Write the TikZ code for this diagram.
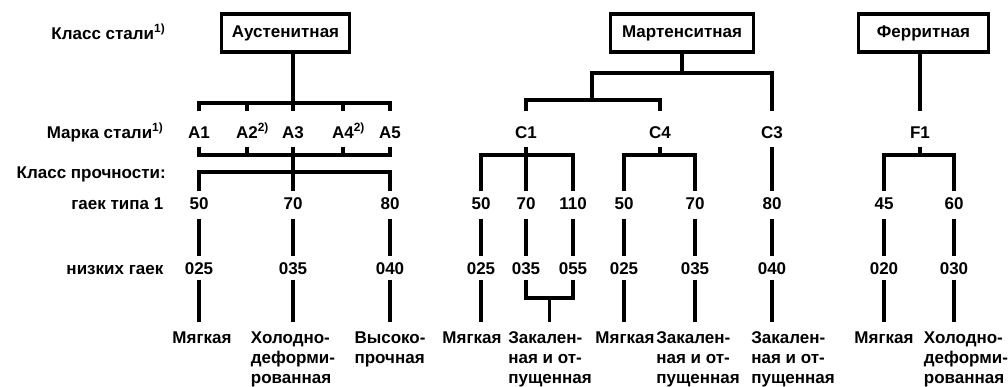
\documentclass[tikz,border=0pt]{standalone}
\usepackage{fontspec}
\setmainfont{Liberation Sans}
\begin{document}
\begin{tikzpicture}[x=1pt,y=-1pt,line width=3.4pt]
\tikzstyle{every node}+=[inner sep=0pt,font=\fontsize{17pt}{20pt}\selectfont\bfseries]
\tikzstyle{klass}=[draw,minimum height=38pt]
\tikzstyle{marka}=[minimum height=32pt,text height=18pt,text depth=0pt]
\tikzstyle{prochn}=[minimum height=24pt,text height=12pt,text depth=4pt]
\tikzstyle{kod}=[minimum height=20pt,text height=12pt,text depth=0pt]
\tikzstyle{vid}=[anchor=north,align=left,inner ysep=8pt]
\useasboundingbox (0,0) rectangle (1008,386);
\node [anchor=base east] (lklass) at (167,39) {Класс стали\textsuperscript{1)}};
\node [anchor=base east] (lmarka) at (165,138) {Марка стали\textsuperscript{1)}};
\node [anchor=base west] (lprochn) at (15,178) {Класс прочности:};
\node [anchor=base east] (lgaek) at (165,209) {гаек типа 1};
\node [anchor=base east] (lnizk) at (165,274) {низких гаек};
\node [klass,minimum width=128pt] (aust) at (285.5,33) {Аустенитная};
\node [klass,minimum width=143pt] (mart) at (682,33) {Мартенситная};
\node [klass,minimum width=130pt] (ferr) at (923.5,33) {Ферритная};
\node [marka] (A1) at (199,129) {A1};
\node [marka] (A2) at (247,129) {A2\rlap{\textsuperscript{2)}}};
\node [marka] (A3) at (293,129) {A3};
\node [marka] (A4) at (343,129) {A4\rlap{\textsuperscript{2)}}};
\node [marka] (A5) at (390,129) {A5};
\node [marka] (C1) at (526,129) {C1};
\node [marka] (C4) at (660,129) {C4};
\node [marka] (C3) at (772,129) {C3};
\node [marka] (F1) at (920,129) {F1};
\node [prochn] (a50) at (199,205) {50};
\node [prochn] (a70) at (293,205) {70};
\node [prochn] (a80) at (390,205) {80};
\node [prochn] (c50) at (481,205) {50};
\node [prochn] (c70) at (526,205) {70};
\node [prochn] (c110) at (573,205) {110};
\node [prochn] (d50) at (624,205) {50};
\node [prochn] (d70) at (695,205) {70};
\node [prochn] (e80) at (772,205) {80};
\node [prochn] (f45) at (884,205) {45};
\node [prochn] (f60) at (954,205) {60};
\node [kod] (a025) at (199,268) {025};
\node [kod] (a035) at (293,268) {035};
\node [kod] (a040) at (390,268) {040};
\node [kod] (c025) at (481,268) {025};
\node [kod] (c035) at (526,268) {035};
\node [kod] (c055) at (573,268) {055};
\node [kod] (d025) at (624,268) {025};
\node [kod] (d035) at (695,268) {035};
\node [kod] (e040) at (772,268) {040};
\node [kod] (f020) at (884,268) {020};
\node [kod] (f030) at (954,268) {030};
\node [vid] (ta1) at (202,322) {Мягкая};
\node [vid] (ta2) at (293,322) {Холодно-\\деформи-\\рованная};
\node [vid] (ta3) at (390,322) {Высоко-\\прочная};
\node [vid] (tc1) at (472,322) {Мягкая};
\node [vid] (tc2) at (550,322) {Закален-\\ная и от-\\пущенная};
\node [vid] (td1) at (625,322) {Мягкая};
\node [vid] (td2) at (698,322) {Закален-\\ная и от-\\пущенная};
\node [vid] (te1) at (793,322) {Закален-\\ная и от-\\пущенная};
\node [vid] (tf1) at (884,322) {Мягкая};
\node [vid] (tf2) at (966,322) {Холодно-\\деформи-\\рованная};
\coordinate (abr) at (293,103);
\coordinate (abl) at (293,155);
\coordinate (apr) at (293,172);
\coordinate (mj) at (592,73);
\coordinate (cj) at (592,100);
\coordinate (cbr) at (526,155);
\coordinate (cz) at (549.5,298);
\draw (aust.south -| A3) -- (A3.north);
\draw (A1.north) -- (A1.north |- abr) -- (A5.north |- abr) -- (A5.north);
\draw (A1.south) -- (A1.south |- abl) -- (A5.south |- abl) -- (A5.south);
\foreach \m in {A2,A4} {
  \draw (\m.north) -- (\m.north |- abr);
  \draw (\m.south) -- (\m.south |- abl);
}
\draw (A3.south) -- (a70.north);
\draw (a50.north) -- (a50.north |- apr) -- (a80.north |- apr) -- (a80.north);
\draw (mart.south) -- (mart.south |- mj);
\draw (C3.north) -- (C3.north |- mj) -- (mj) -- (cj);
\draw (C1.north) -- (C1.north |- cj) -- (C4.north |- cj) -- (C4.north);
\draw (C1.south) -- (c70.north);
\draw (c50.north) -- (c50.north |- cbr) -- (c110.north |- cbr) -- (c110.north);
\draw (C4.south) -- (C4.south |- cbr);
\draw (d50.north) -- (d50.north |- cbr) -- (d70.north |- cbr) -- (d70.north);
\draw (C3.south) -- (e80.north);
\draw (ferr.south -| F1) -- (F1.north);
\draw (F1.south) -- (F1.south |- cbr);
\draw (f45.north) -- (f45.north |- cbr) -- (f60.north |- cbr) -- (f60.north);
\foreach \n/\k in {a50/a025,a70/a035,a80/a040,c50/c025,c70/c035,c110/c055,d50/d025,d70/d035,e80/e040,f45/f020,f60/f030}
  \draw (\n.south) -- (\k.north);
\foreach \k/\t in {a025/ta1,a035/ta2,a040/ta3,c025/tc1,d025/td1,d035/td2,e040/te1,f020/tf1,f030/tf2}
  \draw (\k.south) -- (\k.south |- \t.north);
\draw (c035.south) -- (c035.south |- cz) -- (c055.south |- cz) -- (c055.south);
\draw (cz) -- (cz |- tc2.north);
\end{tikzpicture}
\end{document}
